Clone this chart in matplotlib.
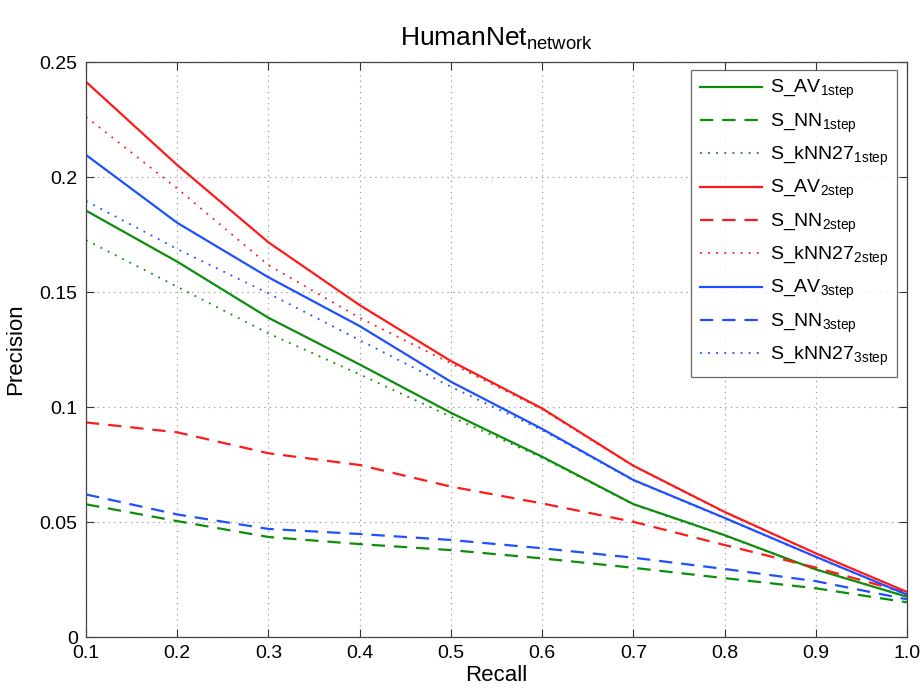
import matplotlib
matplotlib.use('Agg')
import matplotlib.pyplot as plt
from matplotlib import font_manager

# pick a narrow font if there is one, the reference text is condensed
names = set(f.name for f in font_manager.fontManager.ttflist)
fam = 'Liberation Sans Narrow' if 'Liberation Sans Narrow' in names else 'Liberation Sans'
plt.rcParams['font.family'] = [fam, 'DejaVu Sans']
plt.rcParams['mathtext.fontset'] = 'custom'
plt.rcParams['mathtext.rm'] = fam
plt.rcParams['mathtext.it'] = fam

recall = [0.1, 0.2, 0.3, 0.4, 0.5, 0.6, 0.7, 0.8, 0.9, 1.0]

av1 = [0.1854, 0.1632, 0.1388, 0.1185, 0.0975, 0.0784, 0.0578, 0.0443, 0.0294, 0.0175]
nn1 = [0.0577, 0.0504, 0.0435, 0.0404, 0.0378, 0.0342, 0.0301, 0.0256, 0.0212, 0.0151]
knn1 = [0.1726, 0.1523, 0.1320, 0.1142, 0.0958, 0.0780, 0.0576, 0.0441, 0.0293, 0.0176]
av2 = [0.2414, 0.2052, 0.1716, 0.1443, 0.1200, 0.0994, 0.0745, 0.0544, 0.0364, 0.0196]
nn2 = [0.0933, 0.0890, 0.0799, 0.0748, 0.0654, 0.0581, 0.0501, 0.0400, 0.0302, 0.0192]
knn2 = [0.2262, 0.1950, 0.1617, 0.1388, 0.1190, 0.0990, 0.0743, 0.0542, 0.0363, 0.0195]
av3 = [0.2096, 0.1801, 0.1564, 0.1352, 0.1110, 0.0905, 0.0683, 0.0518, 0.0349, 0.0184]
nn3 = [0.0620, 0.0533, 0.0470, 0.0448, 0.0422, 0.0386, 0.0345, 0.0296, 0.0243, 0.0164]
knn3 = [0.1896, 0.1687, 0.1494, 0.1291, 0.1088, 0.0900, 0.0681, 0.0516, 0.0348, 0.0183]

labels = [r'S_AV$_{\mathrm{1step}}$', r'S_NN$_{\mathrm{1step}}$', r'S_kNN27$_{\mathrm{1step}}$',
          r'S_AV$_{\mathrm{2step}}$', r'S_NN$_{\mathrm{2step}}$', r'S_kNN27$_{\mathrm{2step}}$',
          r'S_AV$_{\mathrm{3step}}$', r'S_NN$_{\mathrm{3step}}$', r'S_kNN27$_{\mathrm{3step}}$']

green = '#0c8e0c'
red = '#ff1a1a'
blue = '#1f4fff'

fig = plt.figure(figsize=(9.24, 6.91), dpi=100)
ax = fig.add_axes([0.0931, 0.0781, 0.8885, 0.8321])

series = [av1, nn1, knn1, av2, nn2, knn2, av3, nn3, knn3]
colors = [green, green, green, red, red, red, blue, blue, blue]
for i, (y, c, lab) in enumerate(zip(series, colors, labels)):
    kind = i % 3
    if kind == 0:
        ax.plot(recall, y, color=c, lw=1.6, label=lab)
    elif kind == 1:
        ax.plot(recall, y, color=c, lw=1.6, dashes=(6, 4), label=lab)
    else:
        ax.plot(recall, y, color=c, lw=1.3, dashes=(1, 3.5), label=lab)

ax.set_xlim(0.1, 1.0)
ax.set_ylim(0, 0.25)
ax.set_xticks(recall)
ax.set_xticklabels(['0.1', '0.2', '0.3', '0.4', '0.5', '0.6', '0.7', '0.8', '0.9', '1.0'])
ax.set_yticks([0, 0.05, 0.1, 0.15, 0.2, 0.25])
ax.set_yticklabels(['0', '0.05', '0.1', '0.15', '0.2', '0.25'])
ax.tick_params(direction='in', top=True, right=True, labelsize=14, length=6,
               width=0.8, color='#333333', pad=6)
ax.grid(True, color='#888888', linestyle=(0, (1, 4)), linewidth=0.8)
for s in ax.spines.values():
    s.set_color('#444444')
    s.set_linewidth(0.9)

ax.set_xlabel('Recall', fontsize=16, labelpad=2)
ax.set_ylabel('Precision', fontsize=16, labelpad=10)
ax.set_title(r'HumanNet$_{\mathrm{network}}$', fontsize=19, pad=12)

leg = ax.legend(loc='upper right', bbox_to_anchor=(0.988, 0.987), fontsize=14,
                handlelength=3.2, handletextpad=0.4, labelspacing=0.52,
                borderpad=0.45, frameon=True, fancybox=False, borderaxespad=0)
leg.get_frame().set_edgecolor('#444444')
leg.get_frame().set_linewidth(0.9)

fig.savefig('out.png', dpi=100)
